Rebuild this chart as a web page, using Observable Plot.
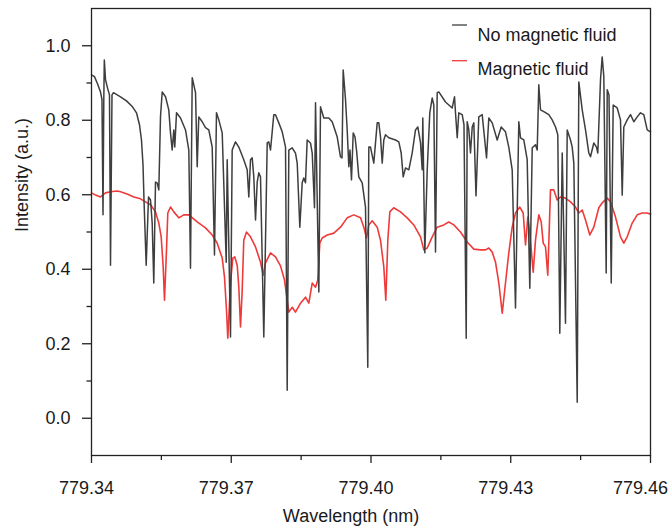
<!DOCTYPE html>
<html>
<head>
<meta charset="utf-8">
<script src="https://cdn.jsdelivr.net/npm/d3@7"></script>
<script src="https://cdn.jsdelivr.net/npm/@observablehq/plot@0.6"></script>
<style>
  html, body { margin: 0; padding: 0; background: #fff; }
  #chart { width: 672px; height: 530px; }
</style>
</head>
<body>
<div id="chart"></div>
<script>
// ---- Data (wavelength nm, intensity a.u.) ----
const seriesNames = ["No magnetic fluid", "Magnetic fluid"];
const seriesColors = ["#3e3e3e", "#ef3a3a"];

const noFluid = [[779.34000,0.922],[779.34064,0.917],[779.34129,0.898],[779.34193,0.876],[779.34225,0.855],[779.34247,0.546],[779.34264,0.855],[779.34275,0.962],[779.34301,0.909],[779.34343,0.887],[779.34386,0.868],[779.34408,0.411],[779.34440,0.868],[779.34472,0.874],[779.34623,0.863],[779.34751,0.852],[779.34880,0.836],[779.34966,0.820],[779.35030,0.788],[779.35073,0.747],[779.35106,0.680],[779.35127,0.586],[779.35174,0.411],[779.35224,0.594],[779.35267,0.586],[779.35303,0.524],[779.35337,0.363],[779.35374,0.634],[779.35410,0.632],[779.35445,0.613],[779.35481,0.809],[779.35518,0.876],[779.35589,0.863],[779.35659,0.828],[779.35696,0.766],[779.35732,0.720],[779.35767,0.774],[779.35788,0.728],[779.35825,0.820],[779.35911,0.806],[779.36018,0.774],[779.36089,0.720],[779.36125,0.403],[779.36162,0.914],[779.36233,0.874],[779.36269,0.675],[779.36303,0.809],[779.36376,0.796],[779.36447,0.780],[779.36518,0.774],[779.36591,0.728],[779.36640,0.438],[779.36683,0.820],[779.36733,0.801],[779.36806,0.766],[779.36892,0.419],[779.36913,0.694],[779.36984,0.218],[779.37020,0.720],[779.37091,0.742],[779.37162,0.728],[779.37269,0.694],[779.37342,0.667],[779.37377,0.594],[779.37413,0.694],[779.37450,0.699],[779.37484,0.648],[779.37521,0.532],[779.37557,0.634],[779.37591,0.659],[779.37628,0.648],[779.37699,0.218],[779.37772,0.739],[779.37806,0.742],[779.37843,0.720],[779.37913,0.815],[779.37950,0.815],[779.38021,0.793],[779.38094,0.769],[779.38165,0.728],[779.38201,0.075],[779.38236,0.720],[779.38309,0.726],[779.38379,0.712],[779.38416,0.685],[779.38472,0.513],[779.38523,0.632],[779.38557,0.645],[779.38594,0.632],[779.38630,0.747],[779.38701,0.739],[779.38738,0.712],[779.38787,0.565],[779.38809,0.847],[779.38880,0.339],[779.38916,0.836],[779.38987,0.806],[779.39094,0.806],[779.39167,0.796],[779.39275,0.755],[779.39345,0.702],[779.39378,0.699],[779.39403,0.935],[779.39453,0.855],[779.39489,0.774],[779.39524,0.675],[779.39549,0.720],[779.39581,0.640],[779.39618,0.766],[779.39657,0.755],[779.39689,0.720],[779.39738,0.648],[779.39811,0.632],[779.39882,0.567],[779.39931,0.137],[779.39953,0.728],[779.39989,0.728],[779.40060,0.685],[779.40133,0.793],[779.40168,0.793],[779.40204,0.755],[779.40241,0.685],[779.40275,0.747],[779.40311,0.761],[779.40382,0.753],[779.40526,0.747],[779.40597,0.742],[779.40648,0.712],[779.40691,0.648],[779.40741,0.672],[779.40812,0.667],[779.40884,0.712],[779.40955,0.774],[779.41005,0.782],[779.41063,0.739],[779.41099,0.667],[779.41112,0.806],[779.41155,0.444],[779.41207,0.667],[779.41262,0.820],[779.41314,0.860],[779.41348,0.841],[779.41385,0.446],[779.41421,0.874],[779.41456,0.876],[779.41599,0.849],[779.41743,0.833],[779.41793,0.863],[779.41814,0.820],[779.41851,0.753],[779.41885,0.820],[779.41958,0.815],[779.41996,0.788],[779.42044,0.215],[779.42065,0.796],[779.42100,0.774],[779.42136,0.712],[779.42173,0.782],[779.42207,0.793],[779.42254,0.597],[779.42314,0.809],[779.42387,0.815],[779.42480,0.699],[779.42529,0.806],[779.42602,0.793],[779.42709,0.747],[779.42795,0.782],[779.42887,0.769],[779.42958,0.728],[779.43031,0.667],[779.43102,0.296],[779.43173,0.796],[779.43209,0.753],[779.43280,0.747],[779.43353,0.694],[779.43409,0.349],[779.43461,0.726],[779.43531,0.734],[779.43568,0.720],[779.43602,0.895],[779.43639,0.828],[779.43710,0.823],[779.43817,0.815],[779.43890,0.801],[779.43961,0.782],[779.44010,0.761],[779.44053,0.228],[779.44105,0.712],[779.44175,0.255],[779.44212,0.774],[779.44283,0.747],[779.44319,0.728],[779.44354,0.685],[779.44427,0.043],[779.44461,0.903],[779.44534,0.828],[779.44605,0.774],[779.44676,0.712],[779.44712,0.702],[779.44783,0.739],[779.44841,0.728],[779.44869,0.712],[779.44927,0.909],[779.44963,0.970],[779.44998,0.917],[779.45049,0.390],[779.45071,0.882],[779.45109,0.868],[779.45157,0.363],[779.45199,0.841],[779.45285,0.833],[779.45356,0.801],[779.45393,0.599],[779.45427,0.782],[779.45500,0.801],[779.45571,0.815],[779.45642,0.796],[779.45715,0.809],[779.45785,0.820],[779.45856,0.815],[779.45929,0.774],[779.46000,0.769]];

const withFluid = [[779.34000,0.605],[779.34086,0.599],[779.34193,0.594],[779.34301,0.605],[779.34408,0.608],[779.34552,0.610],[779.34623,0.608],[779.34766,0.602],[779.34908,0.594],[779.35052,0.589],[779.35159,0.581],[779.35267,0.573],[779.35374,0.554],[779.35445,0.524],[779.35496,0.487],[779.35539,0.406],[779.35567,0.317],[779.35610,0.452],[779.35638,0.551],[779.35696,0.567],[779.35767,0.554],[779.35874,0.538],[779.35981,0.546],[779.36089,0.546],[779.36269,0.527],[779.36447,0.511],[779.36591,0.492],[779.36698,0.470],[779.36806,0.430],[779.36855,0.379],[779.36898,0.290],[779.36926,0.215],[779.36984,0.363],[779.37033,0.430],[779.37076,0.433],[779.37128,0.411],[779.37162,0.352],[779.37199,0.245],[779.37235,0.344],[779.37269,0.478],[779.37327,0.500],[779.37413,0.487],[779.37521,0.460],[779.37628,0.419],[779.37686,0.384],[779.37735,0.417],[779.37843,0.444],[779.37950,0.433],[779.38057,0.409],[779.38143,0.371],[779.38201,0.317],[779.38236,0.285],[779.38309,0.298],[779.38379,0.285],[779.38487,0.309],[779.38594,0.325],[779.38665,0.309],[779.38738,0.363],[779.38809,0.352],[779.38858,0.371],[779.38901,0.470],[779.38952,0.484],[779.39060,0.492],[779.39202,0.497],[779.39345,0.513],[779.39489,0.538],[779.39631,0.546],[779.39775,0.538],[779.39846,0.513],[779.39903,0.484],[779.39953,0.519],[779.40026,0.530],[779.40133,0.513],[779.40204,0.478],[779.40275,0.406],[779.40318,0.317],[779.40361,0.478],[779.40404,0.554],[779.40489,0.565],[779.40633,0.554],[779.40777,0.538],[779.40919,0.519],[779.41063,0.487],[779.41134,0.452],[779.41207,0.457],[779.41314,0.487],[779.41421,0.513],[779.41563,0.519],[779.41670,0.527],[779.41778,0.519],[779.41921,0.500],[779.42065,0.473],[779.42207,0.454],[779.42351,0.452],[779.42458,0.452],[779.42529,0.457],[779.42602,0.446],[779.42673,0.419],[779.42744,0.363],[779.42817,0.282],[779.42887,0.363],[779.42958,0.444],[779.43031,0.513],[779.43102,0.551],[779.43194,0.567],[779.43267,0.551],[779.43317,0.465],[779.43366,0.540],[779.43409,0.497],[779.43482,0.392],[779.43531,0.478],[779.43602,0.546],[779.43654,0.527],[779.43697,0.470],[779.43746,0.460],[779.43795,0.384],[779.43853,0.613],[779.43924,0.613],[779.43997,0.586],[779.44068,0.594],[779.44175,0.591],[779.44283,0.581],[779.44390,0.567],[779.44461,0.551],[779.44534,0.559],[779.44605,0.532],[779.44697,0.492],[779.44783,0.513],[779.44890,0.565],[779.44963,0.578],[779.45071,0.591],[779.45141,0.581],[779.45249,0.540],[779.45356,0.487],[779.45427,0.470],[779.45500,0.487],[779.45607,0.524],[779.45715,0.546],[779.45822,0.551],[779.45929,0.551],[779.46000,0.548]];

const xMajorTicks = [779.34, 779.37, 779.40, 779.43, 779.46];
const xMinorTicks = [779.355, 779.385, 779.415, 779.445];
const yMajorTicks = [0.0, 0.2, 0.4, 0.6, 0.8, 1.0];
const yMinorTicks = [0.1, 0.3, 0.5, 0.7, 0.9];
const xTitle = "Wavelength (nm)";
const yTitle = "Intensity (a.u.)";

// ---- Layout ----
const W = 672, H = 530;
const mL = 91, mR = 22, mT = 8, mB = 75;
const FONT = "'Liberation Sans', Arial, Helvetica, sans-serif";
const ink = "#1a1a1a";
const axisInk = "#222";

const grayData = noFluid.map(([w, v]) => ({w, v}));
const redData = withFluid.map(([w, v]) => ({w, v}));
const fmtX = d => d.toFixed(2);

const chart = Plot.plot({
  width: W,
  height: H,
  marginLeft: mL,
  marginRight: mR,
  marginTop: mT,
  marginBottom: mB,
  style: {fontFamily: FONT, fontSize: "18px", color: ink, background: "#fff"},
  x: {domain: [779.34, 779.46], label: null},
  y: {domain: [-0.1, 1.1], label: null},
  marks: [
    Plot.line(redData, {x: "w", y: "v", stroke: seriesColors[1], strokeWidth: 1.6, strokeLinejoin: "round"}),
    Plot.line(grayData, {x: "w", y: "v", stroke: seriesColors[0], strokeWidth: 1.5, strokeLinejoin: "round"}),
    Plot.frame({stroke: axisInk, strokeWidth: 1.3}),
    // x ticks (marks only) and labels
    Plot.axisX(xMajorTicks, {anchor: "bottom", tickSize: 8, fill: "none", label: null, stroke: axisInk, strokeWidth: 1.3}),
    Plot.axisX(xMinorTicks, {anchor: "bottom", tickSize: 5, fill: "none", label: null, stroke: axisInk, strokeWidth: 1.3}),
    Plot.text(xMajorTicks.slice(0, -1), {x: d => d, text: fmtX, frameAnchor: "bottom", lineAnchor: "top", dy: 26, dx: -5, fontSize: 18, fill: ink}),
    Plot.text(xMajorTicks.slice(-1), {x: d => d, text: fmtX, frameAnchor: "bottom", lineAnchor: "top", dy: 26, dx: -10, fontSize: 18, fill: ink}),
    // y ticks and labels
    Plot.axisY(yMajorTicks, {anchor: "left", tickSize: 9, tickPadding: 12, tickFormat: d => d.toFixed(1), label: null, stroke: axisInk, strokeWidth: 1.3, fontSize: 18}),
    Plot.axisY(yMinorTicks, {anchor: "left", tickSize: 4.5, fill: "none", label: null, stroke: axisInk, strokeWidth: 1.3}),
    // axis titles
    Plot.text([xTitle], {frameAnchor: "bottom", dx: -20, dy: 66, fontSize: 18, fill: ink}),
    Plot.text([yTitle], {frameAnchor: "left", dx: -69, rotate: -90, fontSize: 18, fill: ink}),
    // legend labels
    Plot.text([seriesNames[0]], {frameAnchor: "top-right", dx: -173, dy: 19.5, textAnchor: "start", fontSize: 18, fill: ink}),
    Plot.text([seriesNames[1]], {frameAnchor: "top-right", dx: -173, dy: 53.5, textAnchor: "start", fontSize: 18, fill: ink})
  ]
});

// legend line samples
const svg = d3.select(chart);
const legendX1 = W - mR - 198, legendX2 = W - mR - 183;
[17, 52.7].forEach((dy, i) => {
  svg.append("line")
    .attr("x1", legendX1).attr("x2", legendX2)
    .attr("y1", mT + dy).attr("y2", mT + dy)
    .attr("stroke", seriesColors[i]).attr("stroke-width", 1.3);
});

document.getElementById("chart").appendChild(chart);
</script>
</body>
</html>
